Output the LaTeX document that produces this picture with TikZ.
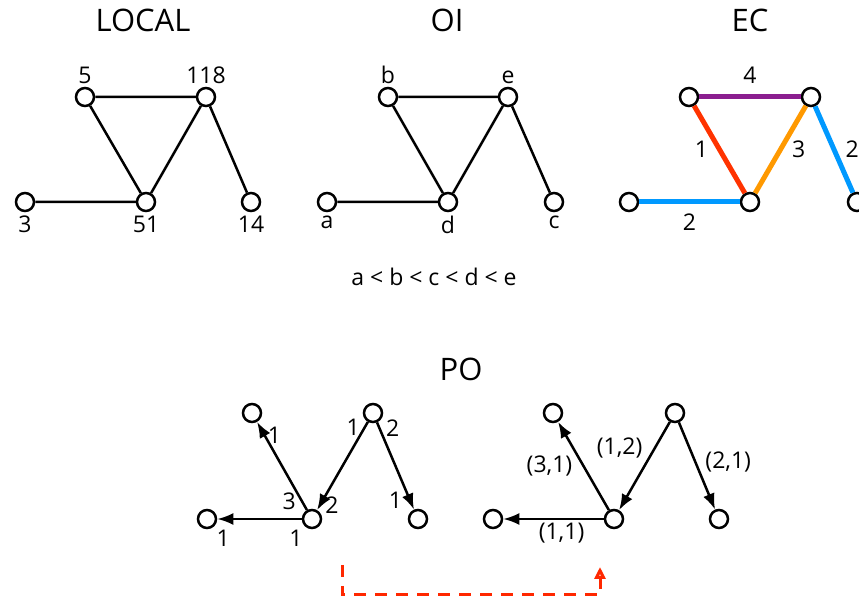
\documentclass[tikz,border=0pt]{standalone}
\usepackage{fontspec}
\setmainfont{Open Sans}
\usepackage{tikz}
\usetikzlibrary{arrows.meta,positioning,calc}
\definecolor{ecpurple}{RGB}{139,30,143}
\definecolor{ecred}{RGB}{255,51,0}
\definecolor{ecorange}{RGB}{255,153,0}
\definecolor{ecblue}{RGB}{0,153,255}
\definecolor{mapred}{RGB}{255,40,0}

\begin{document}
\begin{tikzpicture}[x=0.5pt, y=-0.5pt,
		vert/.style={draw, circle, line width=1.25pt, minimum size=9pt, inner sep=0pt, fill=white},
		lbl/.style={font=\fontsize{11.5}{13}\selectfont, inner sep=1.5pt, text=black},
		ttl/.style={font=\fontsize{15.5}{18}\selectfont},
		link/.style={line width=1.25pt},
		dirlink/.style={line width=1.25pt, -{Latex[length=8pt,width=6pt]}},
		colourlink/.style={line width=2.5pt},
		maplink/.style={mapred, line width=1.5pt, dash pattern=on 6pt off 4.5pt, -{Triangle[open,length=6pt,width=5.5pt]}}]
	\useasboundingbox (0,0) rectangle (859,598);
	
	\node[ttl] (localtitle) at (143,20) {LOCAL};
	\node[vert, label={[lbl]90:5}] (l5) at (85,97) {};
	\node[vert, label={[lbl]90:118}] (l118) at (206,97) {};
	\node[vert, label={[lbl]-90:3}] (l3) at (25,202) {};
	\node[vert, label={[lbl]-90:51}] (l51) at (146,202) {};
	\node[vert, label={[lbl]-90:14}] (l14) at (251,202) {};
	\draw[link] (l5) -- (l118) (l5) -- (l51) (l118) -- (l51) (l118) -- (l14) (l3) -- (l51);
	
	\node[ttl] (oititle) at (447,20) {OI};
	\node[vert, label={[lbl]90:b}] (ob) at (388,97) {};
	\node[vert, label={[lbl]90:e}] (oe) at (508,97) {};
	\node[vert, label={[lbl]-90:a}] (oa) at (327,202) {};
	\node[vert, label={[lbl]-90:d}] (od) at (448,202) {};
	\node[vert, label={[lbl]-90:c}] (oc) at (554,202) {};
	\draw[link] (ob) -- (oe) (ob) -- (od) (oe) -- (od) (oe) -- (oc) (oa) -- (od);
	
	\node[lbl] (order) at (434,277) {a < b < c < d < e};
	
	\node[ttl] (ectitle) at (750,20) {EC};
	\node[vert] (e1) at (689,97) {};
	\node[vert] (e2) at (811,97) {};
	\node[vert] (e3) at (629,202) {};
	\node[vert] (e4) at (750,202) {};
	\node[vert] (e5) at (857,202) {};
	\draw[colourlink, ecpurple] (e1) -- node[lbl, above=4pt] {4} (e2);
	\draw[colourlink, ecred] (e1) -- node[lbl, left=3pt] {1} (e4);
	\draw[colourlink, ecorange] (e2) -- node[lbl, right=3pt] {3} (e4);
	\draw[colourlink, ecblue] (e2) -- node[lbl, right=3pt] {2} (e5);
	\draw[colourlink, ecblue] (e3) -- node[lbl, below=3pt] {2} (e4);
	
	\node[ttl] (potitle) at (461,369) {PO};
	\node[vert, label={[lbl, label distance=3pt]-40:1}] (pa) at (252,413) {};
	\node[vert, label={[lbl]195:1}, label={[lbl]-20:2}] (pb) at (373,413) {};
	\node[vert, label={[lbl]-53:1}] (pc) at (207,519) {};
	\node[vert, label={[lbl, label distance=2pt]155:3}, label={[lbl]10:2}, label={[lbl]-127:1}] (pd) at (312,519) {};
	\node[vert, label={[lbl, label distance=2pt]152:1}] (pe) at (418,519) {};
	\draw[dirlink] (pd) -- (pa);
	\draw[dirlink] (pb) -- (pd);
	\draw[dirlink] (pb) -- (pe);
	\draw[dirlink] (pd) -- (pc);
	
	\node[vert] (qa) at (553,413) {};
	\node[vert] (qb) at (675,413) {};
	\node[vert] (qc) at (493,519) {};
	\node[vert] (qd) at (614,519) {};
	\node[vert] (qe) at (719,519) {};
	\draw[dirlink] (qd) -- node[lbl, left=3.5pt] {(3,1)} (qa);
	\draw[dirlink] (qb) -- node[lbl, pos=0.3, left=4pt] {(1,2)} (qd);
	\draw[dirlink] (qb) -- node[lbl, pos=0.45, right=3pt] {(2,1)} (qe);
	\draw[dirlink] (qd) -- node[lbl, pos=0.42, below] {(1,1)} (qc);
	
	\coordinate (mapfrom) at (342,565);
	\coordinate (mapto) at (600,567);
	\draw[maplink] (mapfrom) -- ++(0,30) -| (mapto);
\end{tikzpicture}
\end{document}
